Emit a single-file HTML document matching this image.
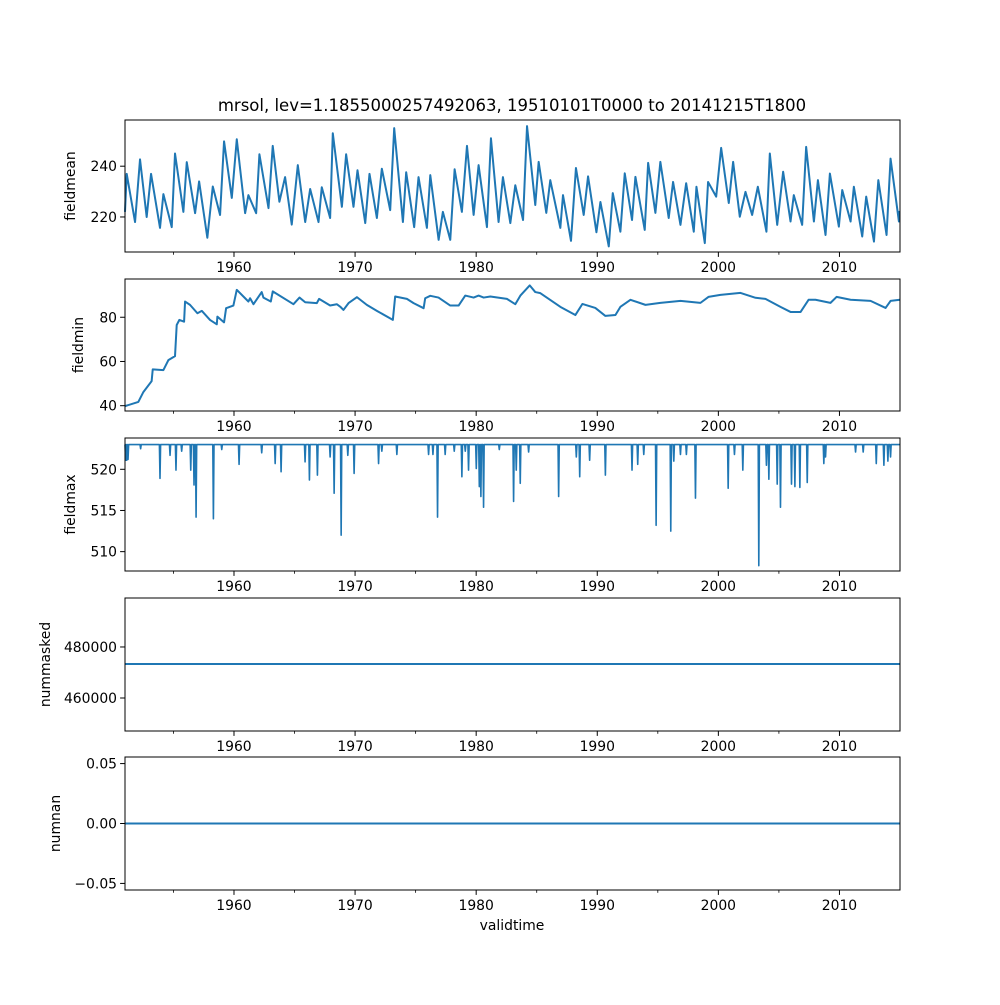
<!DOCTYPE html>
<html><head><meta charset="utf-8"><style>
html,body{margin:0;padding:0;background:#fff}
svg text{font-family:"DejaVu Sans","Liberation Sans",sans-serif;fill:#000}
</style></head><body>
<svg id="fig" width="1000" height="1000" viewBox="0 0 1000 1000" xmlns="http://www.w3.org/2000/svg">
<rect width="1000" height="1000" fill="#fff"/>
<text x="512" y="111" font-size="16.5" text-anchor="middle">mrsol, lev=1.1855000257492063, 19510101T0000 to 20141215T1800</text>
<text x="512" y="930" font-size="13.9" text-anchor="middle">validtime</text>
</svg>
<script>
const xTickYears=[1960,1970,1980,1990,2000,2010];
const xMinorYears=[1955,1965,1975,1985,1995,2005];
const xDomain=[1951,2015];

const meanYears=[1951.0,1951.14,1951.83,1952.24,1952.79,1953.15,1953.89,1954.17,1954.86,1955.13,1955.82,1956.10,1956.79,1957.12,1957.80,1958.25,1958.85,1959.18,1959.82,1960.23,1960.92,1961.19,1961.83,1962.10,1962.85,1963.20,1963.75,1964.22,1964.77,1965.27,1965.88,1966.29,1966.98,1967.25,1967.94,1968.16,1968.91,1969.26,1969.87,1970.20,1970.84,1971.19,1971.80,1972.21,1972.90,1973.23,1973.95,1974.22,1974.88,1975.24,1975.93,1976.21,1976.90,1977.25,1977.86,1978.22,1978.82,1979.24,1979.79,1980.20,1980.89,1981.22,1981.85,1982.21,1982.82,1983.23,1983.87,1984.20,1984.88,1985.16,1985.79,1986.12,1986.95,1987.17,1987.83,1988.24,1988.88,1989.24,1989.93,1990.26,1990.95,1991.28,1991.91,1992.27,1992.87,1993.15,1993.92,1994.20,1994.80,1995.21,1995.90,1996.26,1996.87,1997.34,1997.97,1998.19,1998.88,1999.15,1999.82,2000.23,2000.86,2001.22,2001.77,2002.24,2002.79,2003.26,2003.97,2004.25,2004.86,2005.35,2005.96,2006.23,2006.92,2007.25,2007.89,2008.22,2008.85,2009.21,2009.95,2010.23,2010.92,2011.19,2011.88,2012.21,2012.85,2013.21,2013.89,2014.22,2014.91,2014.96];
const meanValues=[222,237,218,242.7,220,237,215.7,229,216,245,222,241.6,221.5,234,211.8,232,220.8,249.8,227.5,250.6,221.5,228.6,221.5,244.7,223.5,248,226,235.7,217,240.4,218,231,218,231.7,219.6,253,224,244.7,224,238.4,217.6,237,219.6,239,222.7,255,218,237.6,216,235.7,215.7,236.5,211,222,211,238.8,222,248,220.8,240.4,216,251,218,235.7,217.6,232.5,218.8,255.8,224.7,241.7,221.6,234.5,215.7,228.6,210.6,239.3,220.8,236,214,225.9,208.4,229.4,214.2,237.2,218.8,235.8,214.9,241.3,221.6,241.7,219.6,233.8,216.9,233.3,214.2,231.9,209.7,233.8,228,247.2,225.5,241.7,220.1,229.9,220.8,231.9,214.2,245,216.9,237.8,218.2,228.6,216.9,247.6,218.2,234.5,212.9,237.1,216.2,230.6,218.2,231.9,212.3,228,210.3,234.5,212.9,243,218.2,222.4];

const minYears=[1951.0,1952.10,1952.52,1953.20,1953.29,1954.17,1954.58,1955.13,1955.27,1955.49,1955.88,1955.96,1956.37,1956.98,1957.34,1958.02,1958.58,1958.63,1959.18,1959.35,1959.95,1960.23,1960.92,1961.19,1961.33,1961.61,1962.29,1962.43,1963.04,1963.20,1964.91,1965.41,1965.88,1966.84,1967.03,1967.94,1968.49,1968.77,1969.04,1969.46,1970.15,1970.97,1971.80,1973.12,1973.31,1974.28,1974.83,1975.66,1975.79,1976.21,1976.89,1977.86,1978.55,1979.10,1979.79,1980.20,1980.62,1981.17,1982.54,1983.23,1983.65,1984.42,1984.88,1985.30,1986.95,1988.19,1988.77,1989.84,1990.67,1991.50,1991.91,1992.74,1993.98,1995.21,1996.87,1998.52,1999.18,2000.17,2001.83,2003.07,2003.89,2005.13,2005.96,2006.79,2007.45,2008.02,2009.26,2009.76,2010.92,2012.57,2013.81,2014.22,2015.0];
const minValues=[39.8,41.7,46.2,51.1,56.4,56.1,60.6,62.4,76.5,78.8,78.0,87.1,85.6,81.8,82.9,78.8,76.8,80.3,77.7,84.1,85.3,92.4,88.6,87.1,88.6,85.9,91.4,88.9,87.1,91.7,85.9,88.9,86.8,86.4,88.3,85.3,85.9,84.8,83.3,86.4,89.1,85.6,82.9,78.8,89.4,88.3,86.4,84.1,88.6,89.7,88.9,85.3,85.3,89.8,88.9,89.8,88.9,89.4,88.3,85.9,89.8,94.4,91.4,90.9,84.7,81,86,84.2,80.6,81,84.7,87.9,85.6,86.5,87.4,86.5,89.2,90.1,91,88.8,88.3,84.7,82.4,82.4,87.9,87.9,86.5,89.2,87.9,87.4,84.2,87.4,87.9];

const maxBase=523.0;
const maxDipYears=[1951.05,1951.14,1951.25,1952.29,1953.89,1954.72,1955.21,1955.68,1956.43,1956.70,1956.87,1958.30,1958.99,1960.42,1962.29,1963.40,1963.89,1965.87,1966.23,1966.89,1967.94,1968.27,1968.85,1969.40,1969.92,1971.94,1972.21,1973.45,1976.07,1976.43,1976.81,1977.44,1978.19,1978.82,1979.10,1979.37,1980.01,1980.26,1980.39,1980.61,1981.91,1983.09,1983.31,1983.64,1984.33,1986.81,1988.27,1988.55,1989.37,1990.67,1992.87,1993.34,1993.84,1994.86,1996.07,1996.32,1996.87,1997.36,1998.11,2000.81,2001.33,2002.02,2003.34,2003.97,2004.17,2004.86,2005.13,2006.04,2006.32,2006.73,2007.34,2008.71,2008.85,2011.33,2011.96,2013.04,2013.67,2014.00,2014.22];
const maxDipValues=[521.1,521.1,521.2,522.5,518.9,521.7,519.9,522.2,519.9,518.1,514.2,514.0,522.4,520.6,522.0,520.7,519.7,520.9,518.7,519.3,521.5,517.1,512.0,521.7,519.5,520.7,522.2,521.8,521.8,521.8,514.2,521.8,522.2,519.1,522.2,519.9,520.1,517.9,516.7,515.4,522.4,516.1,519.9,518.3,522.1,516.7,521.5,519.1,521.1,519.3,519.9,520.6,521.8,513.2,512.5,521.0,521.8,521.8,516.5,517.7,521.8,519.9,508.3,520.5,518.8,518.2,515.4,518.2,517.9,517.8,518.4,520.7,521.5,522.1,522.1,520.7,520.5,521.0,521.5];

const maskedValue=473333;
const nanValue=0;

const meanTicks=[220,240], meanTickLabels=["220","240"];
const minTicks=[40,60,80], minTickLabels=["40","60","80"];
const maxTicks=[510,515,520], maxTickLabels=["510","515","520"];
const maskedTicks=[460000,480000], maskedTickLabels=["460000","480000"];
const nanTicks=[-0.05,0,0.05], nanTickLabels=["\u22120.05","0.00","0.05"];

const NS="http://www.w3.org/2000/svg";
const svg=document.getElementById('fig');
const L=125,R=900;
function xs(yr){return L+(yr-xDomain[0])/(xDomain[1]-xDomain[0])*(R-L);}
function mk(tag,attrs,parent){const e=document.createElementNS(NS,tag);for(const k in attrs)e.setAttribute(k,attrs[k]);(parent||svg).appendChild(e);return e;}

const panels=[
 {name:'fieldmean',top:120,bot:252,dom:[206.2,258.2],ticks:meanTicks,labels:meanTickLabels,lx:75},
 {name:'fieldmin',top:279,bot:411,dom:[37.6,97.3],ticks:minTicks,labels:minTickLabels,lx:83},
 {name:'fieldmax',top:438,bot:571,dom:[507.65,523.8],ticks:maxTicks,labels:maxTickLabels,lx:75},
 {name:'nummasked',top:598,bot:731,dom:[447059,499200],ticks:maskedTicks,labels:maskedTickLabels,lx:50},
 {name:'numnan',top:757,bot:890,dom:[-0.0555,0.0555],ticks:nanTicks,labels:nanTickLabels,lx:60}
];

panels.forEach((p,i)=>{
 const g=mk('g',{});
 
 
 const ys=v=>p.bot-(v-p.dom[0])/(p.dom[1]-p.dom[0])*(p.bot-p.top);
 p.ys=ys;
 // series
 let d='';
 if(i===0){d=meanYears.map((y,k)=>(k?'L':'M')+xs(y).toFixed(2)+','+ys(meanValues[k]).toFixed(2)).join('');}
 else if(i===1){d=minYears.map((y,k)=>(k?'L':'M')+xs(y).toFixed(2)+','+ys(minValues[k]).toFixed(2)).join('');}
 else if(i===2){
  d='M'+xs(xDomain[0])+','+ys(maxBase);
  maxDipYears.forEach((y,k)=>{const x=xs(y);d+='L'+(x-0.6).toFixed(2)+','+ys(maxBase).toFixed(2)+'L'+x.toFixed(2)+','+ys(maxDipValues[k]).toFixed(2)+'L'+(x+0.6).toFixed(2)+','+ys(maxBase).toFixed(2);});
  d+='L'+xs(2014.96)+','+ys(maxBase);
 }
 else if(i===3){d='M'+xs(1951)+','+ys(maskedValue)+'L'+xs(2014.96)+','+ys(maskedValue);}
 else {d='M'+xs(1951)+','+ys(nanValue)+'L'+xs(2014.96)+','+ys(nanValue);}
 const line=mk('path',{d:d,fill:'none',stroke:'#1f77b4','stroke-width':(i===2?1.6:2),'stroke-linejoin':'round'},g);
 
 
 // frame
 const fr=mk('rect',{x:L,y:p.top,width:R-L,height:p.bot-p.top,fill:'none',stroke:'#000','stroke-width':1},g);
 
 
 // y ticks
 p.ticks.forEach((t,k)=>{
  const y=ys(t);
  mk('line',{x1:L-4.9,x2:L,y1:y,y2:y,stroke:'#000','stroke-width':1},g);
  const tx=mk('text',{x:L-8,y:y+5,'font-size':13.9,'text-anchor':'end'},g);
  tx.textContent=p.labels[k];
  
  
 });
 // x ticks
 xTickYears.forEach(yr=>{
  const x=xs(yr);
  mk('line',{x1:x,x2:x,y1:p.bot,y2:p.bot+4.9,stroke:'#000','stroke-width':1},g);
  const tx=mk('text',{x:x,y:p.bot+20,'font-size':13.9,'text-anchor':'middle'},g);
  tx.textContent=String(yr);
  
  
 });
 xMinorYears.forEach(yr=>{const x=xs(yr);mk('line',{x1:x,x2:x,y1:p.bot,y2:p.bot+2.8,stroke:'#000','stroke-width':0.8},g);});
 // y label
 const cy=(p.top+p.bot)/2;
 const yl=mk('text',{x:p.lx,y:cy,'font-size':13.9,'text-anchor':'middle',transform:'rotate(-90 '+p.lx+' '+cy+')'},g);
 yl.textContent=p.name;
 
 
});
</script>
</body></html>
